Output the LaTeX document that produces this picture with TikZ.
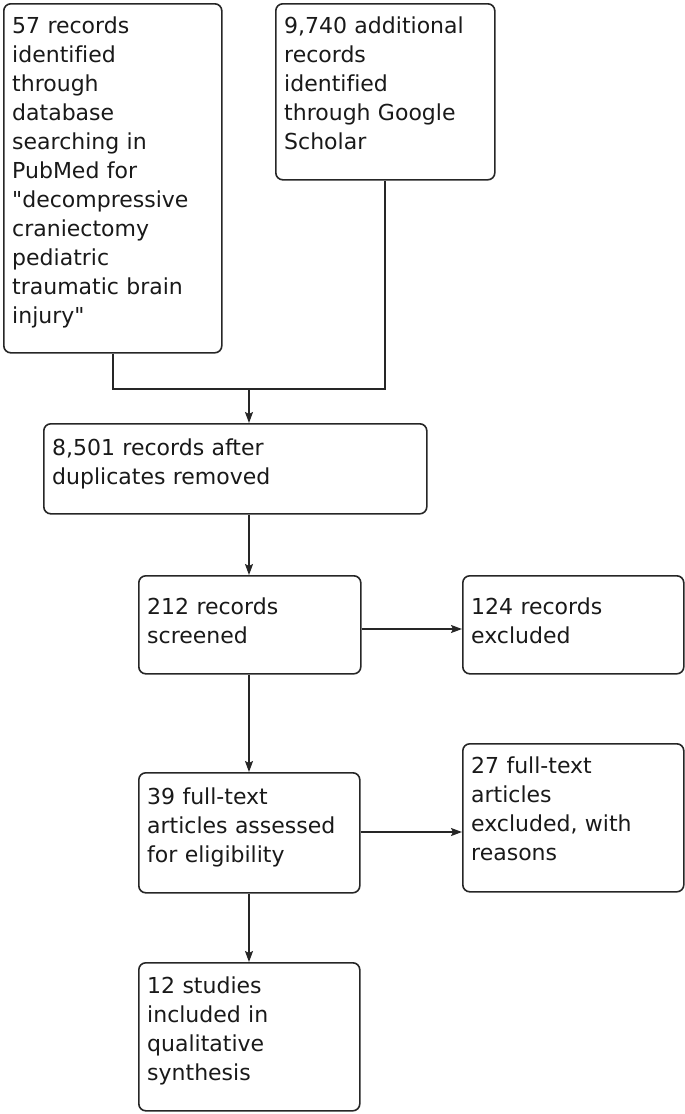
\documentclass[tikz,border=0pt]{standalone}
\usepackage{fontspec}
\setmainfont{DejaVu Sans}[Ligatures={TeXOff,NoCommon}]
\usetikzlibrary{arrows.meta}
\tikzset{
  frame/.style={draw=black!85, line width=1.6pt, rounded corners=7pt, anchor=north west, inner sep=0pt},
  txt/.style={anchor=base west, inner sep=0pt, text width=#1, align=left, font=\fontsize{22}{29}\selectfont, text=black!90},
  conn/.style={draw=black!85, line width=1.6pt},
  arr/.style={conn, -{Stealth[length=11pt, width=8pt, inset=2pt]}},
}
\newcommand{\mkbox}[5]{% name, x1, y1, x2, y2
  \node[frame, minimum width=#4pt-#2pt, minimum height=#5pt-#3pt] (#1) at (#2,#3) {};
}
\begin{document}
\begin{tikzpicture}[x=1pt,y=-1pt]
\useasboundingbox (0,0) rectangle (685,1114);
\mkbox{b1}{3}{3}{221}{352}
\mkbox{b2}{275}{3}{494}{179}
\mkbox{b3}{43}{423}{426}{513}
\mkbox{b4}{138}{575}{360}{673}
\mkbox{b5}{462}{575}{683}{673}
\mkbox{b6}{138}{772}{359}{892}
\mkbox{b7}{462}{743}{683}{891}
\mkbox{b8}{138}{962}{359}{1110}

\node[txt=210pt] (t1) at (12,33) {57 records\\identified\\through\\database\\searching in\\PubMed for\\"decompressive\\craniectomy\\pediatric\\traumatic brain\\injury"};
\node[txt=210pt] (t2) at (284,33) {9,740 additional\\records\\identified\\through Google\\Scholar};
\node[txt=370pt] (t3) at (52,455) {8,501 records after\\duplicates removed};
\node[txt=210pt] (t4) at (147,614) {212 records\\screened};
\node[txt=210pt] (t5) at (471,614) {124 records\\excluded};
\node[txt=210pt] (t6) at (147,804) {39 full-text\\articles assessed\\for eligibility};
\node[txt=210pt] (t7) at (471,773) {27 full-text\\articles\\excluded, with\\reasons};
\node[txt=210pt] (t8) at (147,993) {12 studies\\included in\\qualitative\\synthesis};

\coordinate (m1) at (113,389);
\coordinate (m2) at (385,389);
\coordinate (mj) at (249,389);
\draw[conn] (b1.south -| m1) -- (m1) -- (m2) -- (b2.south -| m2);
\draw[arr] (mj) -- (b3.north -| mj);
\draw[arr] (b3.south -| mj) -- (b4.north -| mj);
\draw[arr] (b4.east |- 0,629) -- (b5.west |- 0,629);
\draw[arr] (b4.south -| mj) -- (b6.north -| mj);
\draw[arr] (b6.east |- 0,832) -- (b7.west |- 0,832);
\draw[arr] (b6.south -| mj) -- (b8.north -| mj);
\end{tikzpicture}
\end{document}
